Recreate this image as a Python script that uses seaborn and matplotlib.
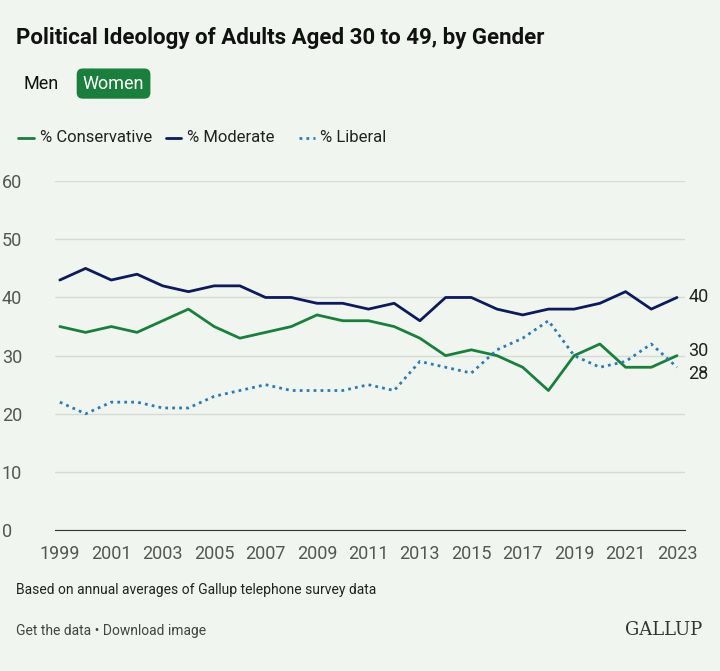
import pandas as pd
import matplotlib.pyplot as plt
import seaborn as sns

years = list(range(1999, 2024))
moderate = [43, 45, 43, 44, 42, 41, 42, 42, 40, 40, 39, 39, 38, 39, 36, 40, 40, 38, 37, 38, 38, 39, 41, 38, 40]
conservative = [35, 34, 35, 34, 36, 38, 35, 33, 34, 35, 37, 36, 36, 35, 33, 30, 31, 30, 28, 24, 30, 32, 28, 28, 30]
liberal = [22, 20, 22, 22, 21, 21, 23, 24, 25, 24, 24, 24, 25, 24, 29, 28, 27, 31, 33, 36, 30, 28, 29, 32, 28]

bg = '#f0f6ef'
green = '#1a7f3c'
navy = '#0d1a5b'
blue = '#2c7bb6'

sns.set_style("white")
plt.rcParams['font.family'] = ['Roboto', 'DejaVu Sans']

df = pd.DataFrame({'Year': years, 'Conservative': conservative,
                   'Moderate': moderate, 'Liberal': liberal})

fig = plt.figure(figsize=(7.2, 6.71), dpi=100, facecolor=bg)
ax = fig.add_axes([0.076, 0.21, 0.875, 0.52])
ax.set_facecolor(bg)

sns.lineplot(data=df, x='Year', y='Conservative', ax=ax, color=green, linewidth=2)
sns.lineplot(data=df, x='Year', y='Moderate', ax=ax, color=navy, linewidth=2)
sns.lineplot(data=df, x='Year', y='Liberal', ax=ax, color=blue, linewidth=2, linestyle=(0, (1, 1.5)))

ax.set_ylim(0, 60)
ax.set_xlim(1998.8, 2023.3)
ax.set_yticks(range(0, 61, 10))
ax.set_xticks(range(1999, 2024, 2))
ax.yaxis.grid(True, color='#d4dcd4', linewidth=1)
for s in ['top', 'right', 'left']:
    ax.spines[s].set_visible(False)
ax.spines['bottom'].set_color('#333333')
ax.tick_params(axis='both', labelsize=13, colors='#555555', length=0, pad=6)
ax.tick_params(axis='x', length=5, color='#333333')
ax.set_xlabel('')
ax.set_ylabel('')
for lbl in ax.get_yticklabels():
    lbl.set_horizontalalignment('left')
ax.tick_params(axis='y', pad=38)

ax.text(2023.45, moderate[-1], str(moderate[-1]), va='center', fontsize=13, color='#222222', clip_on=False)
ax.text(2023.45, conservative[-1] + 0.8, str(conservative[-1]), va='center', fontsize=13, color='#222222', clip_on=False)
ax.text(2023.45, liberal[-1] - 1.2, str(liberal[-1]), va='center', fontsize=13, color='#222222', clip_on=False)

fig.text(0.022, 0.935, 'Political Ideology of Adults Aged 30 to 49, by Gender',
         fontsize=16, fontweight='bold', color='#111111')
fig.text(0.033, 0.868, 'Men', fontsize=13, color='#111111')
fig.text(0.115, 0.868, 'Women', fontsize=13, color='white',
         bbox=dict(boxstyle='round,pad=0.3', fc=green, ec=green))

# legend
lx = [0.025, 0.23, 0.415]
names = ['% Conservative', '% Moderate', '% Liberal']
styles = [(green, '-'), (navy, '-'), (blue, (0, (1, 1.5)))]
for x, n, (c, ls) in zip(lx, names, styles):
    fig.add_artist(plt.Line2D([x, x + 0.022], [0.795, 0.795], color=c, linestyle=ls, linewidth=2))
    fig.text(x + 0.03, 0.795, n, fontsize=12, va='center', color='#222222')

fig.text(0.022, 0.115, 'Based on annual averages of Gallup telephone survey data', fontsize=10, color='#222222')
fig.text(0.022, 0.054, 'Get the data • Download image', fontsize=10, color='#444444')
fig.text(0.975, 0.054, 'GALLUP', fontsize=13, color='#333333', ha='right', family='DejaVu Serif')

fig.savefig('out.png', dpi=100, facecolor=bg)
